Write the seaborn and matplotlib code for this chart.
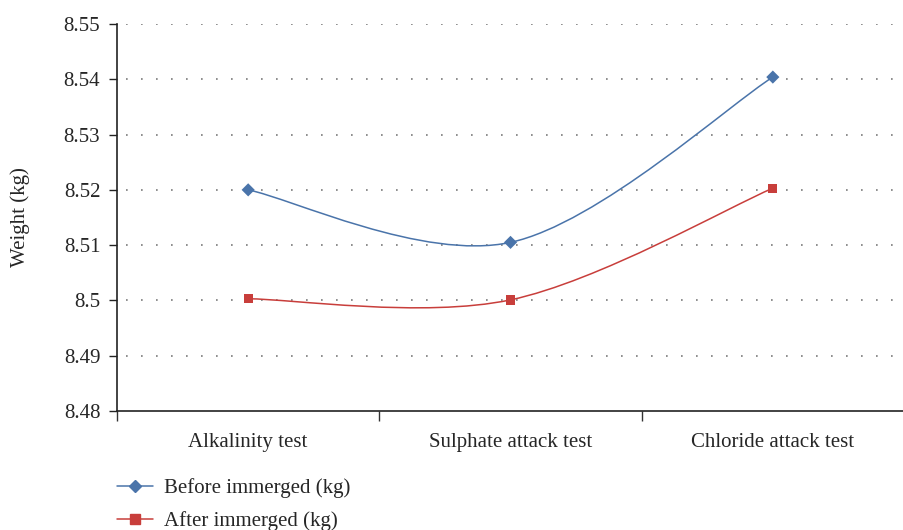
import numpy as np
import pandas as pd
import seaborn as sns
import matplotlib
matplotlib.use("Agg")
import matplotlib.pyplot as plt
from matplotlib.path import Path
from matplotlib.patches import PathPatch
from matplotlib.lines import Line2D

categories = ["Alkalinity test", "Sulphate attack test", "Chloride attack test"]
before = [8.5200, 8.5105, 8.5404]
after = [8.5003, 8.5001, 8.5203]
series_names = ["Before immerged (kg)", "After immerged (kg)"]
yticks = [8.48, 8.49, 8.50, 8.51, 8.52, 8.53, 8.54, 8.55]
ytick_labels = ["8.48", "8.49", "8.5", "8.51", "8.52", "8.53", "8.54", "8.55"]

BLUE = "#4a74aa"
RED = "#c83e3b"

sns.set_theme(style="white")
plt.rcParams["font.family"] = ["Liberation Serif", "DejaVu Serif"]

fig = plt.figure(figsize=(9.04, 5.30), dpi=100)
ax = fig.add_axes([117 / 904, (530 - 411) / 530, (904 - 117) / 904, (411 - 24) / 530])

df = pd.DataFrame({
    "cat": list(range(3)) * 2,
    "value": before + after,
    "series": [series_names[0]] * 3 + [series_names[1]] * 3,
})


def smooth_path(xs, ys):
    # Excel-style smoothed line: Catmull-Rom segments drawn as cubic Beziers
    pts = list(zip(xs, ys))
    verts = [pts[0]]
    codes = [Path.MOVETO]
    n = len(pts)
    for i in range(n - 1):
        p0 = pts[i - 1] if i > 0 else pts[i]
        p1 = pts[i]
        p2 = pts[i + 1]
        p3 = pts[i + 2] if i + 2 < n else pts[i + 1]
        c1 = (p1[0] + (p2[0] - p0[0]) / 6, p1[1] + (p2[1] - p0[1]) / 6)
        c2 = (p2[0] - (p3[0] - p1[0]) / 6, p2[1] - (p3[1] - p1[1]) / 6)
        verts += [c1, c2, p2]
        codes += [Path.CURVE4] * 3
    return Path(verts, codes)


for name, color in zip(series_names, [BLUE, RED]):
    sub = df[df["series"] == name]
    ax.add_patch(PathPatch(smooth_path(sub["cat"].tolist(), sub["value"].tolist()),
                           facecolor="none", edgecolor=color, lw=1.1, zorder=2))

sns.scatterplot(data=df, x="cat", y="value", hue="series", style="series",
                markers={series_names[0]: "D", series_names[1]: "s"},
                palette={series_names[0]: BLUE, series_names[1]: RED},
                s=45, edgecolor="none", ax=ax, legend=False, zorder=3)

ax.set_xlim(-0.5, 2.453)
ax.set_ylim(8.48, 8.55)
ax.set_yticks(yticks)
ax.set_yticklabels(ytick_labels)
ax.set_xticks([0, 1, 2])
ax.set_xticklabels(categories)
ax.set_xticks([-0.5, 0.5, 1.5, 2.5], minor=True)
ax.tick_params(axis="x", which="major", length=0, pad=16, labelsize=15)
ax.tick_params(axis="x", which="minor", length=7, width=1, color="#333333", direction="out", bottom=True)
ax.tick_params(axis="y", length=6, width=1, color="#222222", direction="out", left=True, labelsize=15, pad=6)
ax.set_xlabel("")
ax.set_ylabel("Weight (kg)", fontsize=15, labelpad=24)

for y in yticks[1:]:
    ax.axhline(y, xmin=0.012, color="#7a7a7a", lw=1.2, ls=(0, (1, 8)), zorder=1)

for side in ["top", "right"]:
    ax.spines[side].set_visible(False)
for side in ["left", "bottom"]:
    ax.spines[side].set_color("#222222")
    ax.spines[side].set_linewidth(1.2)

handles = [Line2D([0], [0], color=BLUE, marker="D", markersize=6, lw=1.1),
           Line2D([0], [0], color=RED, marker="s", markersize=6.5, lw=1.1)]
fig.legend(handles, series_names, loc="upper left", bbox_to_anchor=(113 / 904, (530 - 474) / 530),
           frameon=False, fontsize=15, handlelength=1.7, labelspacing=0.62, handletextpad=0.55,
           borderpad=0.2, borderaxespad=0)

fig.savefig("out.png", dpi=100)
